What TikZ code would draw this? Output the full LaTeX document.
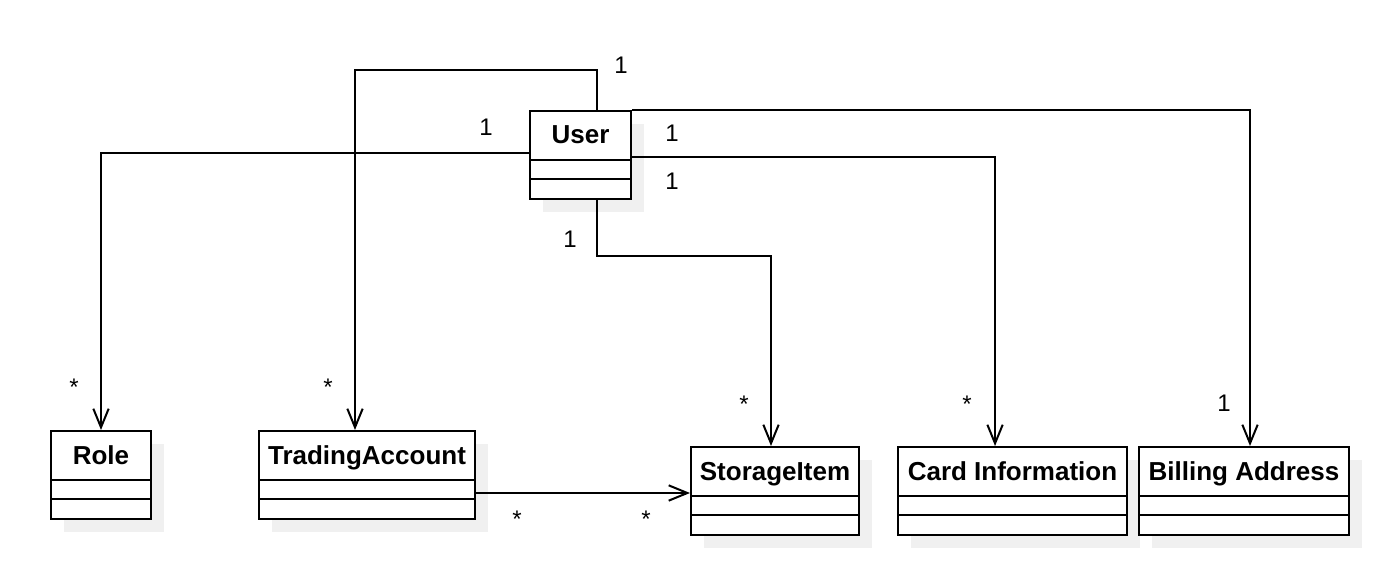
\documentclass[tikz,border=0pt]{standalone}
\usepackage{fontspec}
\setmainfont{Liberation Sans}
\usetikzlibrary{arrows.meta}
\definecolor{shadowc}{HTML}{F0F0F0}
\tikzset{
  classbox/.style={draw=black, fill=white, line width=1.5pt, inner sep=0pt, anchor=north west},
  classname/.style={font=\fontsize{19.5}{23}\selectfont\bfseries, inner sep=0pt, anchor=base},
  divider/.style={line width=1.5pt},
  assoc/.style={line width=1.5pt, line join=miter,
    -{Straight Barb[length=14pt,width=11.5pt,line width=1.5pt]}},
  mult/.style={font=\fontsize{18}{22}\selectfont, inner sep=0pt},
  star/.style={mult, anchor=base},
}
\newcommand\umlclass[6]{% name, x, y, w, h, text
  \fill[shadowc] (#2+14,#3+14) rectangle (#2+#4+14,#3+#5+14);
  \node[classbox, minimum width=#4*0.75pt, minimum height=#5*0.75pt] (#1) at (#2,#3) {};
  \draw[divider] ([yshift=-37.5pt]#1.north west) -- ([yshift=-37.5pt]#1.north east);
  \draw[divider] ([yshift=-52.1pt]#1.north west) -- ([yshift=-52.1pt]#1.north east);
  \node[classname] (#1-name) at ([yshift=-25.5pt]#1.north) {#6};
}
\begin{document}
\begin{tikzpicture}[x=0.75pt, y=-0.75pt]
  \fill[white] (0,0) rectangle (1398,580);
  \useasboundingbox (0,0) rectangle (1398,580);

  \umlclass{role}{50}{430}{100}{88}{Role}
  \umlclass{ta}{258}{430}{216}{88}{TradingAccount}
  \umlclass{user}{529}{110}{101}{88}{User}
  \umlclass{si}{690}{446}{168}{88}{StorageItem}
  \umlclass{card}{897}{446}{229}{88}{Card Information}
  \umlclass{bill}{1138}{446}{210}{88}{Billing Address}

  % connectors
  \draw[assoc] ([xshift=12.375pt]user.north) -- ++(0,-40) -| ([xshift=-9pt]ta.north);
  \draw[assoc] (user.north east) -| ([xshift=4.5pt]bill.north);
  \draw[assoc] ([yshift=-35.25pt]user.north east) -| ([xshift=-13.1pt]card.north);
  \draw[assoc] ([yshift=-32.25pt]user.north west) -| (role.north);
  \draw[assoc] ([xshift=12.375pt]user.south) -- ++(0,56) -| ([xshift=-3pt]si.north);
  \coordinate (taout) at ([yshift=-47.25pt]ta.north east);
  \draw[assoc] (taout) -- (taout -| si.west);

  % multiplicities
  \node[mult] (m1) at (621,65) {1};
  \node[mult] (m2) at (672,133) {1};
  \node[mult] (m3) at (672,181) {1};
  \node[mult] (m4) at (486,127) {1};
  \node[mult] (m5) at (570,239) {1};
  \node[mult] (m6) at (1224,403) {1};
  \node[star] (s1) at (74,396) {*};
  \node[star] (s2) at (328,396) {*};
  \node[star] (s3) at (744,412) {*};
  \node[star] (s4) at (967,412) {*};
  \node[star] (s5) at (517,527) {*};
  \node[star] (s6) at (646,527) {*};
\end{tikzpicture}
\end{document}
